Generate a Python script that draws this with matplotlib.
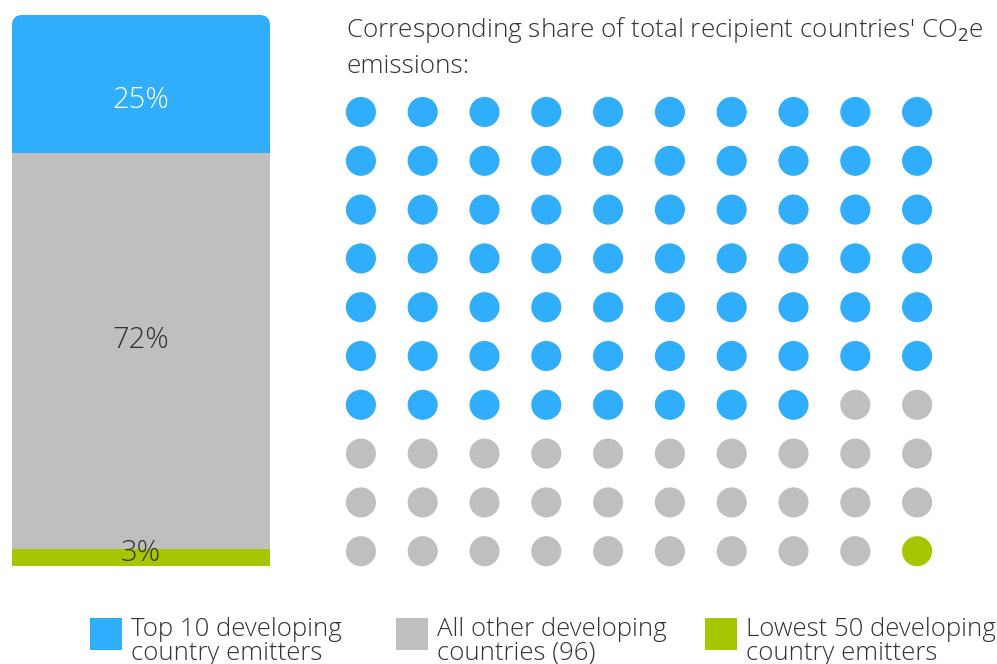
import matplotlib
matplotlib.use("Agg")
import matplotlib.pyplot as plt
from matplotlib.patches import FancyBboxPatch, Rectangle
import numpy as np

plt.rcParams['font.family'] = ['Open Sans', 'DejaVu Sans']
plt.rcParams['mathtext.fontset'] = 'custom'
plt.rcParams['mathtext.rm'] = 'Open Sans'
plt.rcParams['mathtext.it'] = 'Open Sans'

# ---- data ----
bar_categories = ["Lowest 50 developing country emitters",
                  "All other developing countries (96)",
                  "Top 10 developing country emitters"]
bar_values = [3, 72, 25]                 # % share (stacked bottom -> top)
bar_labels = ["3%", "72%", "25%"]
dot_counts = [68, 31, 1]                 # top10, others, lowest50 (out of 100)
legend_labels = ["Top 10 developing\ncountry emitters",
                 "All other developing\ncountries (96)",
                 "Lowest 50 developing\ncountry emitters"]
title_text = "Corresponding share of total recipient countries' CO$_\\mathrm{2}$e\nemissions:"

BLUE = "#30adfb"
GRAY = "#bfbfbf"
GREEN = "#a5c600"
TEXT = "#333333"

W, H = 997, 664
fig = plt.figure(figsize=(W / 100, H / 100), dpi=100)
fig.patch.set_facecolor("white")

def fr(x0, y_top, w, h):
    return [x0 / W, (H - y_top - h) / H, w / W, h / H]

# ---- stacked bar ----
axb = fig.add_axes(fr(12, 15, 258, 551))
colors_bar = [GREEN, GRAY, BLUE]
text_cols = [TEXT, TEXT, "white"]
bottom = 0
bars = []
for v, c in zip(bar_values, colors_bar):
    b = axb.bar(0, v, bottom=bottom, width=1.0, color=c, edgecolor="none")
    bars.append((b, bottom, v))
    bottom += v
axb.set_xlim(-0.5, 0.5)
axb.set_ylim(0, sum(bar_values))
axb.axis("off")

clip = FancyBboxPatch((0, -0.2), 1, 1.2,
                      boxstyle="round,pad=0,rounding_size=0.04",
                      mutation_aspect=258 / 551,
                      transform=axb.transAxes, facecolor="none", edgecolor="none")
axb.add_patch(clip)
for b, _, _ in bars:
    for p in b:
        p.set_clip_path(clip)

# labels (offsets in points to match original placement)
offsets = [-2.5, 8, -12]
for i, ((b, bot, v), lab, tc) in enumerate(zip(bars, bar_labels, text_cols)):
    y = bot + v if i == 0 else bot + v / 2
    axb.annotate(lab, (0, y), xytext=(0, offsets[i]), textcoords="offset points",
                 ha="center", va="center", color=tc, fontsize=21,
                 fontweight="light")

# ---- dot grid ----
axd = fig.add_axes(fr(330, 87.6, 618, 488))
n_cols, n_rows = 10, 10
dot_colors = []
for c, n in zip([BLUE, GRAY, GREEN], dot_counts):
    dot_colors += [c] * n
idx = np.arange(sum(dot_counts))
cols = idx % n_cols
rows = idx // n_cols
axd.scatter(cols, rows, s=470, c=dot_colors, edgecolors="none")
axd.set_xlim(-0.5, n_cols - 0.5)
axd.set_ylim(n_rows - 0.5, -0.5)
axd.axis("off")

# ---- title ----
fig.text(346 / W, 1 - 15 / H, title_text, ha="left", va="top", fontsize=18.8,
         color=TEXT, linespacing=1.47, fontweight="light")

# ---- legend ----
leg_x = [90, 396, 705]
for x0, c, lab in zip(leg_x, [BLUE, GRAY, GREEN], legend_labels):
    fig.add_artist(Rectangle((x0 / W, (H - 650) / H), 32 / W, 32 / H,
                             transform=fig.transFigure, facecolor=c,
                             edgecolor="none"))
    fig.text((x0 + 41) / W, 1 - 617 / H, lab, ha="left", va="top",
             fontsize=18.5, color=TEXT, linespacing=0.93, fontweight="light")

fig.savefig("out.png", dpi=100, facecolor="white")
